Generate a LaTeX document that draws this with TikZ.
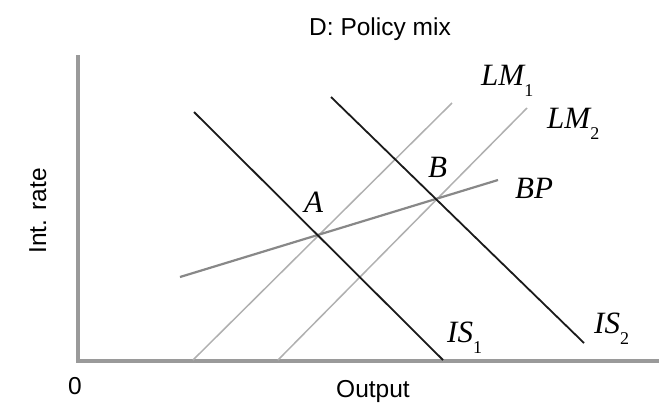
\documentclass[tikz,border=0pt]{standalone}
\usepackage{fontspec}
\setmainfont{Liberation Serif}
\newfontfamily\lsans{Liberation Sans}
\newcommand\sbs[1]{\raisebox{-11pt}{\fontsize{18}{18}\selectfont\upshape #1}}
\definecolor{axisgray}{HTML}{9A9A9A}
\definecolor{isdark}{HTML}{1A1A1A}
\definecolor{lmgray}{HTML}{B0B0B0}
\definecolor{bpgray}{HTML}{888888}
\begin{document}
\begin{tikzpicture}[x=1pt,y=-1pt,
  axis/.style={draw=axisgray,line width=3.8pt},
  isline/.style={draw=isdark,line width=1.8pt},
  lmline/.style={draw=lmgray,line width=1.5pt},
  bpline/.style={draw=bpgray,line width=2.2pt},
  sanslbl/.style={font=\lsans\fontsize{24.5}{25}\selectfont,inner sep=0pt},
  itlbl/.style={font=\itshape\fontsize{31}{31}\selectfont,inner sep=0pt,anchor=base west}]
\useasboundingbox (0,0) rectangle (659,408);
% axes
\coordinate (ytop) at (78,55);
\coordinate (O) at (78,361);
\coordinate (xend) at (659,361);
\draw[axis] (ytop) -- (O) -- (xend);
% curve end points
\coordinate (lm1a) at (193,360);
\coordinate (lm1b) at (452,103);
\coordinate (lm2a) at (278,360);
\coordinate (lm2b) at (527,108);
\coordinate (bpa) at (180,277);
\coordinate (bpb) at (498,180);
\coordinate (is1a) at (194,112);
\coordinate (is1b) at (443,360);
\coordinate (is2a) at (331,97);
\coordinate (is2b) at (584,343);
\draw[lmline] (lm1a) -- (lm1b);
\draw[lmline] (lm2a) -- (lm2b);
\draw[bpline] (bpa) -- (bpb);
\draw[isline] (is1a) -- (is1b);
\draw[isline] (is2a) -- (is2b);
% labels
\node[itlbl] (lA) at (304,212) {A};
\node[itlbl] (lB) at (428,177) {B};
\node[itlbl] (lLM1) at (481,85) {LM\sbs{1}};
\node[itlbl] (lLM2) at (547,128) {LM\sbs{2}};
\node[itlbl] (lBP) at (515,198) {BP};
\node[itlbl] (lIS1) at (447,342) {IS\sbs{1}};
\node[itlbl] (lIS2) at (594,333) {IS\sbs{2}};
% sans text
\node[sanslbl,anchor=base] (title) at (380,35) {D: Policy mix};
\node[sanslbl,anchor=base,rotate=90] (ylab) at (46,211) {Int. rate};
\node[sanslbl,anchor=base] (zero) at (75,394) {0};
\node[sanslbl,anchor=base] (xlab) at (373,397) {Output};
\end{tikzpicture}
\end{document}
